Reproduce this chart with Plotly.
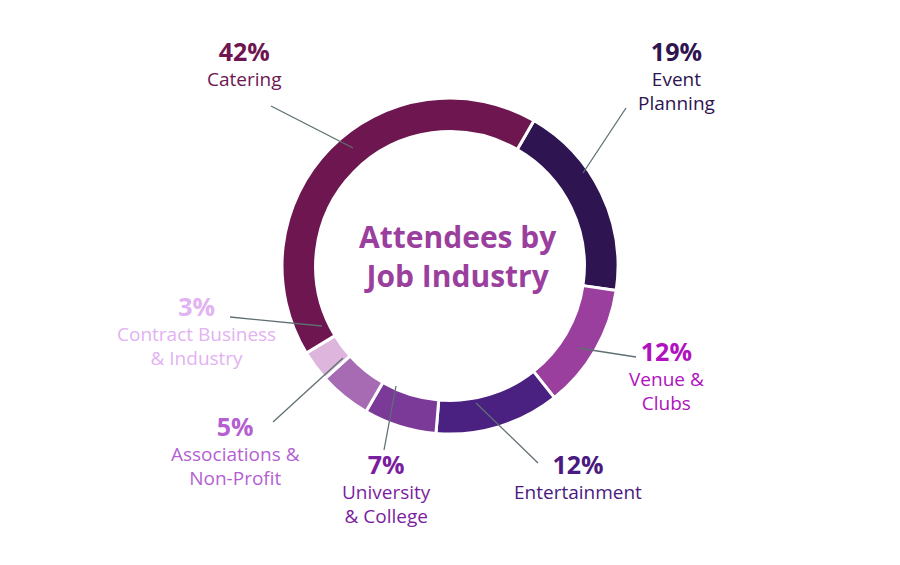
import plotly.graph_objects as go

# slices in clockwise order starting after Catering
labels = ["Event Planning", "Venue & Clubs", "Entertainment", "University & College",
          "Associations & Non-Profit", "Contract Business & Industry", "Catering"]
values = [19, 12, 12, 7, 5, 3, 42]
slice_colors = ["#2e1450", "#9b3f9e", "#4a2080", "#7b3a98", "#a66bb3", "#ddb5dd", "#6e1650"]

# label text, colors and placement (pixels in a 900x565 page)
label_lines = ["Event<br>Planning", "Venue &<br>Clubs", "Entertainment", "University<br>& College",
               "Associations &<br>Non-Profit", "Contract Business<br>& Industry", "Catering"]
text_colors = ["#2e1450", "#b012c0", "#4a1a80", "#7a1ea0", "#b45fd2", "#e2b2f2", "#6e1650"]
text_pos = [(668, 24), (658, 324), (570, 437), (378, 437), (227, 399), (188, 279), (237, 24)]
leaders = [((618, 100), (575, 165)), ((628, 349), (570, 340)), ((530, 455), (468, 395)),
           ((376, 442), (388, 378)), ((265, 414), (335, 350)), ((222, 309), (314, 318)),
           ((263, 98), (345, 140))]

W, H = 900, 565
px = lambda x: x / W
py = lambda y: 1 - y / H

fig = go.Figure(go.Pie(
    labels=labels, values=values, hole=0.8, sort=False, direction="clockwise",
    rotation=30, marker=dict(colors=slice_colors, line=dict(color="white", width=3)),
    textinfo="none", hoverinfo="label+percent", showlegend=False,
    domain=dict(x=[px(274), px(610)], y=[py(426), py(90)]),
))

for lab, v, c, (tx, ty) in zip(label_lines, values, text_colors, text_pos):
    fig.add_annotation(
        x=px(tx), y=py(ty), xref="paper", yref="paper", xanchor="center", yanchor="top",
        showarrow=False, align="center",
        text=f"<span style='font-size:25px'><b>{v}%</b></span><br>{lab}",
        font=dict(family="Open Sans", size=19, color=c),
    )

for (a, b) in leaders:
    fig.add_shape(type="line", xref="paper", yref="paper",
                  x0=px(a[0]), y0=py(a[1]), x1=px(b[0]), y1=py(b[1]),
                  line=dict(color="#5f6f73", width=1.3))

fig.add_annotation(x=px(450), y=py(248), xref="paper", yref="paper", showarrow=False,
                   text="<b>Attendees by<br>Job Industry</b>",
                   font=dict(family="Open Sans", size=30, color="#9b3f9e"))

fig.update_layout(width=W, height=H, margin=dict(l=0, r=0, t=0, b=0),
                  paper_bgcolor="white", plot_bgcolor="white")
fig.write_html("out.html")
